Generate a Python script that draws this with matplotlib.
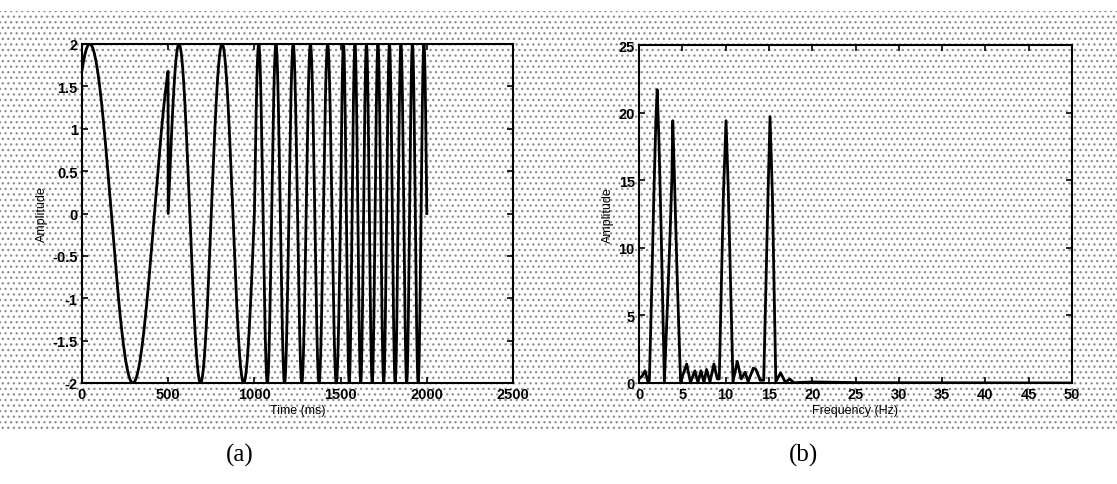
import numpy as np
import matplotlib.pyplot as plt
from matplotlib.patches import Rectangle

plt.rcParams['font.family'] = ['Liberation Sans', 'DejaVu Sans']
plt.rcParams['font.weight'] = 'bold'
plt.rcParams['hatch.linewidth'] = 0.9

# (a) time signal: four 500 ms segments of a 2-amplitude sinusoid
seg_start_ms = [0, 500, 1000, 1500]
seg_end_ms = [500, 1000, 1500, 2000]
seg_freq_hz = [2, 4, 10, 15]
seg_peak_ms = [45, 562.5, 1025, 1516.7]   # time of first crest in each segment
amplitude = 2.0

# (b) amplitude spectrum
spec_freq = [0.0, 0.35, 0.7, 1.05, 1.2, 1.45, 1.7, 1.95, 2.1, 2.3, 2.55, 2.75, 2.93,
             3.3, 3.6, 3.8, 3.9, 4.1, 4.4, 4.8,
             5.5, 5.95, 6.45, 6.8, 7.15, 7.5, 7.8, 8.2, 8.65, 9.05, 9.27,
             9.5, 9.75, 10.05, 10.3, 10.55, 10.85,
             11.35, 11.8, 12.25, 12.6, 13.2, 13.5, 14.0, 14.4,
             14.65, 14.9, 15.13, 15.4, 15.6, 15.8, 16.35, 16.9, 17.4, 17.9,
             20.0, 25.0, 30.0, 40.0, 50.0]
spec_amp = [0.3, 0.5, 0.9, 0.05, 0.2, 6.5, 13.5, 19.5, 21.7, 18.0, 11.5, 5.5, 0.1,
            6.0, 11.2, 15.3, 19.4, 15.0, 8.0, 0.1,
            1.4, 0.05, 0.9, 0.05, 0.9, 0.05, 1.0, 0.1, 1.4, 0.3, 0.3,
            7.0, 14.0, 19.4, 14.5, 8.0, 0.1,
            1.6, 0.3, 0.8, 0.1, 1.1, 1.0, 0.2, 0.2,
            7.0, 14.0, 19.7, 14.0, 7.0, 0.1, 0.75, 0.05, 0.3, 0.02,
            0.08, 0.03, 0.02, 0.01, 0.0]

fig = plt.figure(figsize=(11.17, 4.85), dpi=100)

# scanned halftone background
bg = Rectangle((0, 1 - 432 / 485), 1, 420 / 485, transform=fig.transFigure,
               facecolor='none', edgecolor='#8c8c8c', hatch='...', lw=0, zorder=0)
fig.add_artist(bg)


def style(ax):
    ax.set_facecolor('none')
    ax.tick_params(direction='in', top=True, right=True, length=4,
                   labelsize=10.5, width=1.2, pad=3)
    for s in ax.spines.values():
        s.set_linewidth(1.5)


ax1 = fig.add_axes([82 / 1117, 1 - 384 / 485, 431 / 1117, 339 / 485])
tt, yy = [], []
for s0, s1, f, tp in zip(seg_start_ms, seg_end_ms, seg_freq_hz, seg_peak_ms):
    t = np.linspace(s0, s1, 600, endpoint=False)
    tt.append(t)
    yy.append(amplitude * np.cos(2 * np.pi * f * (t - tp) / 1000.0))
tt = np.concatenate(tt + [[seg_end_ms[-1]]])
yy = np.concatenate(yy + [[0.0]])
ax1.plot(tt, yy, color='k', lw=2.0)
ax1.set_xlim(0, 2500)
ax1.set_ylim(-2, 2)
ax1.set_xticks(np.arange(0, 2501, 500))
ax1.set_yticks(np.arange(-2, 2.01, 0.5))
ax1.set_yticklabels(['-2', '-1.5', '-1', '-0.5', '0', '0.5', '1', '1.5', '2'])
ax1.set_xlabel('Time (ms)', fontsize=9, labelpad=2)
ax1.set_ylabel('Amplitude', fontsize=9, labelpad=3)
style(ax1)

ax2 = fig.add_axes([639 / 1117, 1 - 384 / 485, 433 / 1117, 338 / 485])
ax2.plot(spec_freq, spec_amp, color='k', lw=2.0)
ax2.set_xlim(0, 50)
ax2.set_ylim(0, 25)
ax2.set_xticks(np.arange(0, 51, 5))
ax2.set_yticks(np.arange(0, 26, 5))
ax2.set_xlabel('Frequency (Hz)', fontsize=9, labelpad=2)
ax2.set_ylabel('Amplitude', fontsize=9, labelpad=3)
style(ax2)

fig.text(240 / 1117, 1 - 455 / 485, '(a)', ha='center', va='center',
         fontsize=18, family='Liberation Serif', weight='normal')
fig.text(803 / 1117, 1 - 455 / 485, '(b)', ha='center', va='center',
         fontsize=18, family='Liberation Serif', weight='normal')

fig.savefig('out.png', dpi=100)
